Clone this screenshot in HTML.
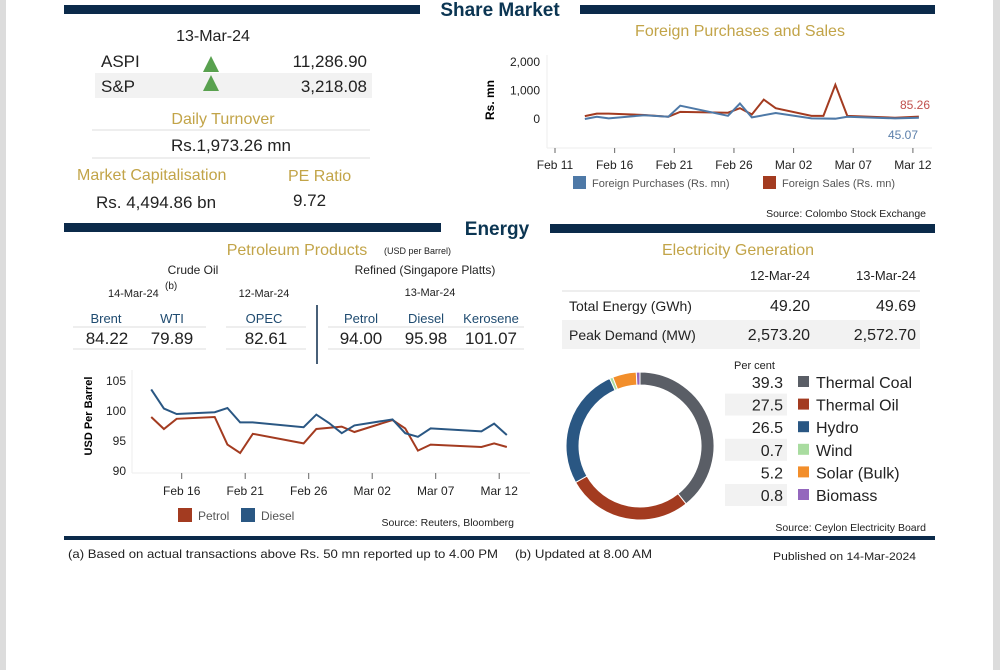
<!DOCTYPE html>
<html><head><meta charset="utf-8"><style>
html,body{margin:0;padding:0;background:#fff;}
svg{display:block;font-family:"Liberation Sans",sans-serif;}
</style></head><body>
<svg id="pg" width="1000" height="670" viewBox="0 0 1000 670">
<rect x="0" y="0" width="6" height="670" fill="#dcdcdc"/>
<rect x="993" y="0" width="7" height="670" fill="#dcdcdc"/>
<!-- headers -->
<rect x="64" y="5" width="356" height="9" fill="#0b2a4a"/>
<rect x="580" y="5" width="355" height="9" fill="#0b2a4a"/>
<text x="500" y="16" text-anchor="middle" font-size="19" font-weight="bold" fill="#0b3552">Share Market</text>
<rect x="64" y="223" width="377" height="9" fill="#0b2a4a"/>
<rect x="550" y="224" width="385" height="9" fill="#0b2a4a"/>
<text x="497" y="235" text-anchor="middle" font-size="19" font-weight="bold" fill="#0b3552">Energy</text>
<rect x="64" y="536" width="871" height="4" fill="#0b2a4a"/>

<!-- share market table -->
<g fill="#222">
<text x="213" y="41" text-anchor="middle" font-size="16">13-Mar-24</text>
<rect x="95" y="73" width="277" height="25" fill="#f2f2f2"/>
<text x="101" y="67" font-size="17">ASPI</text>
<polygon points="203,72 219,72 211,56" fill="#59a14f"/>
<text x="367" y="67" text-anchor="end" font-size="17">11,286.90</text>
<text x="101" y="92" font-size="17">S&amp;P</text>
<polygon points="203,91 219,91 211,75" fill="#59a14f"/>
<text x="367" y="92" text-anchor="end" font-size="17">3,218.08</text>
<text x="223" y="124" text-anchor="middle" font-size="16" fill="#c2a448">Daily Turnover</text>
<line x1="92" y1="130" x2="370" y2="130" stroke="#ddd"/>
<text x="231" y="151" text-anchor="middle" font-size="17">Rs.1,973.26 mn</text>
<line x1="92" y1="158" x2="370" y2="158" stroke="#ddd"/>
<text x="77" y="180" font-size="16" fill="#c2a448">Market Capitalisation</text>
<text x="288" y="181" font-size="16" fill="#c2a448">PE Ratio</text>
<text x="96" y="208" font-size="17">Rs. 4,494.86 bn</text>
<text x="293" y="206" font-size="17">9.72</text>
</g>

<!-- foreign chart -->
<text x="740" y="36" text-anchor="middle" font-size="16" fill="#c2a448">Foreign Purchases and Sales</text>
<g id="fc"></g>
<text x="494" y="100" text-anchor="middle" font-size="12" font-weight="bold" transform="rotate(-90 494 100)">Rs. mn</text>
<rect x="573" y="176" width="13" height="13" fill="#4e79a7"/>
<text x="592" y="187" font-size="11" fill="#555">Foreign Purchases (Rs. mn)</text>
<rect x="763" y="176" width="13" height="13" fill="#a33b20"/>
<text x="782" y="187" font-size="11" fill="#555">Foreign Sales (Rs. mn)</text>
<text x="926" y="217" text-anchor="end" font-size="10.5" fill="#222">Source: Colombo Stock Exchange</text>

<!-- petroleum table -->
<g fill="#222">
<text x="297" y="255" text-anchor="middle" font-size="16" fill="#c2a448">Petroleum Products</text>
<text x="384" y="254" font-size="9">(USD per Barrel)</text>
<text x="193" y="274" text-anchor="middle" font-size="12">Crude Oil</text>
<text x="425" y="274" text-anchor="middle" font-size="12">Refined (Singapore Platts)</text>
<text x="108" y="297" font-size="11">14-Mar-24</text>
<text x="165" y="289" font-size="10">(b)</text>
<text x="264" y="297" text-anchor="middle" font-size="11">12-Mar-24</text>
<text x="430" y="296" text-anchor="middle" font-size="11">13-Mar-24</text>
<line x1="317" y1="305" x2="317" y2="364" stroke="#0b2a4a" stroke-width="1.5"/>
<g font-size="13" fill="#1f4b70" text-anchor="middle">
<text x="106" y="323">Brent</text>
<text x="172" y="323">WTI</text>
<text x="264" y="323">OPEC</text>
<text x="361" y="323">Petrol</text>
<text x="426" y="323">Diesel</text>
<text x="491" y="323">Kerosene</text>
</g>
<g stroke="#ddd"><line x1="73" y1="327" x2="206" y2="327"/><line x1="226" y1="327" x2="306" y2="327"/><line x1="328" y1="327" x2="524" y2="327"/>
<line x1="73" y1="349" x2="206" y2="349"/><line x1="226" y1="349" x2="306" y2="349"/><line x1="328" y1="349" x2="524" y2="349"/></g>
<g font-size="17" text-anchor="middle">
<text x="107" y="344">84.22</text>
<text x="172" y="344">79.89</text>
<text x="266" y="344">82.61</text>
<text x="361" y="344">94.00</text>
<text x="426" y="344">95.98</text>
<text x="491" y="344">101.07</text>
</g>
</g>
<g id="pc"></g>
<text x="92" y="416" text-anchor="middle" font-size="11" font-weight="bold" transform="rotate(-90 92 416)">USD Per Barrel</text>
<rect x="178" y="508" width="14" height="14" fill="#a33b20"/>
<text x="198" y="520" font-size="12" fill="#555">Petrol</text>
<rect x="241" y="508" width="14" height="14" fill="#2a5783"/>
<text x="261" y="520" font-size="12" fill="#555">Diesel</text>
<text x="514" y="526" text-anchor="end" font-size="10.5" fill="#222">Source: Reuters, Bloomberg</text>

<!-- electricity -->
<g fill="#222">
<text x="738" y="255" text-anchor="middle" font-size="16" fill="#c2a448">Electricity Generation</text>
<text x="810" y="280" text-anchor="end" font-size="13">12-Mar-24</text>
<text x="916" y="280" text-anchor="end" font-size="13">13-Mar-24</text>
<line x1="562" y1="291" x2="920" y2="291" stroke="#ddd"/>
<text x="569" y="311" font-size="14">Total Energy (GWh)</text>
<text x="810" y="311" text-anchor="end" font-size="16">49.20</text>
<text x="916" y="311" text-anchor="end" font-size="16">49.69</text>
<rect x="562" y="320" width="358" height="29" fill="#f2f2f2"/>
<text x="569" y="340" font-size="14">Peak Demand (MW)</text>
<text x="810" y="340" text-anchor="end" font-size="16">2,573.20</text>
<text x="916" y="340" text-anchor="end" font-size="16">2,572.70</text>
<text x="734" y="369" font-size="11">Per cent</text>
</g>
<g id="el"></g>
<text x="926" y="531" text-anchor="end" font-size="10.5" fill="#222">Source: Ceylon Electricity Board</text>

<!-- footer -->
<text x="68" y="558" font-size="12" fill="#222" textLength="430" lengthAdjust="spacingAndGlyphs">(a) Based on actual transactions above Rs. 50 mn reported up to 4.00 PM</text>
<text x="515" y="558" font-size="12" fill="#222" textLength="137" lengthAdjust="spacingAndGlyphs">(b) Updated at 8.00 AM</text>
<text x="916" y="560" text-anchor="end" font-size="11" fill="#222" textLength="143" lengthAdjust="spacingAndGlyphs">Published on 14-Mar-2024</text>
</svg>
<script>
// Foreign purchases / sales (day offsets from Feb 11)
const fDaysP=[2,3,4,7,9,10,14,15,16,18,21,23,24,28,30];
const fPurch=[0,78,22,133,78,467,111,544,56,211,22,11,78,22,45];
const fDaysS=[2,3,4,7,9,10,14,15,16,17,18,21,22,23,24,28,30];
const fSales=[100,190,190,140,80,250,220,380,160,680,380,110,110,1200,110,45,85];
const fTickDays=[0,5,10,15,20,25,30];
const fTickLabels=["Feb 11","Feb 16","Feb 21","Feb 26","Mar 02","Mar 07","Mar 12"];
const fYTicks=[0,1000,2000];
const fYLabels=["0","1,000","2,000"];
// Petroleum (day offsets from Feb 11)
const pDaysD=[2,3,4,7,8,9,10,14,15,16,17,18,21,22,23,24,28,29,30];
const diesel=[103.6,100.4,99.5,99.8,100.5,98.1,98.1,97.3,99.4,98.0,96.3,97.6,98.6,96.3,95.7,97.1,96.6,97.9,96.0];
const pDaysP=[2,3,4,7,8,9,10,14,15,17,18,21,22,23,24,28,29,30];
const petrol=[99.0,97.0,98.7,99.0,94.4,93.0,96.2,94.6,97.0,97.4,96.5,98.5,97.1,93.4,94.4,94.0,94.6,94.0];
const pTickDays=[5,10,15,20,25,30];
const pTickLabels=["Feb 16","Feb 21","Feb 26","Mar 02","Mar 07","Mar 12"];
const pYTicks=[90,95,100,105];
// Electricity
const eNames=["Thermal Coal","Thermal Oil","Hydro","Wind","Solar (Bulk)","Biomass"];
const eShares=[39.3,27.5,26.5,0.7,5.2,0.8];
const eColors=["#5a5e66","#a33b20","#2a5783","#a9dca0","#f28e2b","#9467bd"];

const NS="http://www.w3.org/2000/svg";
function mk(parent,tag,attrs){const e=document.createElementNS(NS,tag);for(const k in attrs)e.setAttribute(k,attrs[k]);parent.appendChild(e);return e;}

// foreign chart
(function(){
 const g=document.getElementById('fc');
 const fx=d=>555+d*11.93, ptOff=0.5, fy=v=>119-v*0.0285;
 mk(g,'line',{x1:547,y1:55,x2:547,y2:148,stroke:'#eee'});
 mk(g,'line',{x1:547,y1:148,x2:932,y2:148,stroke:'#eee'});
 fYTicks.forEach((t,i)=>{const e=mk(g,'text',{x:540,y:fy(t)+4,'text-anchor':'end','font-size':12,fill:'#222'});e.textContent=fYLabels[i];
 
 });
 fTickDays.forEach((d,i)=>{mk(g,'line',{x1:fx(d),y1:148,x2:fx(d),y2:153,stroke:'#666'});
 const e=mk(g,'text',{x:fx(d),y:169,'text-anchor':'middle','font-size':12,fill:'#222'});e.textContent=fTickLabels[i];
 
 });
 const ps=fDaysS.map((d,i)=>fx(d+ptOff)+','+fy(fSales[i])).join(' ');
 const l2=mk(g,'polyline',{points:ps,fill:'none',stroke:'#a33b20','stroke-width':2});
 
 
 const pp=fDaysP.map((d,i)=>fx(d+ptOff)+','+fy(fPurch[i])).join(' ');
 const l1=mk(g,'polyline',{points:pp,fill:'none',stroke:'#4e79a7','stroke-width':2});
 
 
 const t1=mk(g,'text',{x:930,y:109,'text-anchor':'end','font-size':12,fill:'#c0504d'});t1.textContent=fSales[fSales.length-1]===85?'85.26':String(fSales[fSales.length-1]);
 
 
 const t2=mk(g,'text',{x:918,y:139,'text-anchor':'end','font-size':12,fill:'#5b7faa'});t2.textContent=fPurch[fPurch.length-1]===45?'45.07':String(fPurch[fPurch.length-1]);
 
 
})();

// petroleum chart
(function(){
 const g=document.getElementById('pc');
 const px=d=>118.2+d*12.7, ptOff=0.6, py=v=>381-(v-105)*-1*-6.2+0; // placeholder
 const yv=v=>381+(105-v)*6.0;
 mk(g,'line',{x1:132,y1:370,x2:132,y2:473,stroke:'#eee'});
 mk(g,'line',{x1:132,y1:473,x2:530,y2:473,stroke:'#eee'});
 pYTicks.forEach(t=>{const e=mk(g,'text',{x:126,y:yv(t)+4,'text-anchor':'end','font-size':12,fill:'#222'});e.textContent=String(t);
 
 });
 pTickDays.forEach((d,i)=>{mk(g,'line',{x1:px(d),y1:473,x2:px(d),y2:479,stroke:'#666'});
 const e=mk(g,'text',{x:px(d),y:495,'text-anchor':'middle','font-size':12,fill:'#222'});e.textContent=pTickLabels[i];
 
 });
 const lp=mk(g,'polyline',{points:pDaysP.map((d,i)=>px(d+ptOff)+','+yv(petrol[i])).join(' '),fill:'none',stroke:'#a33b20','stroke-width':2});
 
 
 const ld=mk(g,'polyline',{points:pDaysD.map((d,i)=>px(d+ptOff)+','+yv(diesel[i])).join(' '),fill:'none',stroke:'#2a5783','stroke-width':2});
 
 
})();

// donut
(function(){
 const g=document.getElementById('el');
 const cx=640,cy=446,R=74,r=61,tot=eShares.reduce((a,b)=>a+b,0);
 let a0=0;
 eShares.forEach((s,i)=>{
  const a1=a0+s/tot*2*Math.PI;
  const p=(a,rr)=>[cx+rr*Math.sin(a),cy-rr*Math.cos(a)];
  const [x1,y1]=p(a0,R),[x2,y2]=p(a1,R),[x3,y3]=p(a1,r),[x4,y4]=p(a0,r);
  const lg=(a1-a0)>Math.PI?1:0;
  const e=mk(g,'path',{d:`M${x1},${y1}A${R},${R} 0 ${lg} 1 ${x2},${y2}L${x3},${y3}A${r},${r} 0 ${lg} 0 ${x4},${y4}Z`,fill:eColors[i],stroke:'#fff','stroke-width':1});
  
  
  a0=a1;
  const yy=387+i*22.6;
  if(i%2===1){mk(g,'rect',{x:725,y:yy-16,width:62,height:22,fill:'#f2f2f2'});}
  const v=mk(g,'text',{x:783,y:yy+6-6+0,'text-anchor':'end','font-size':16,fill:'#222',dy:'0'});v.setAttribute('y',yy+1);v.textContent=s.toFixed(1);
  
  
  mk(g,'rect',{x:798,y:yy-11,width:11,height:11,fill:eColors[i]});
  const n=mk(g,'text',{x:816,y:yy+1,'font-size':16,fill:'#222'});n.textContent=eNames[i];
  
  
 });
})();
</script>
</body></html>
